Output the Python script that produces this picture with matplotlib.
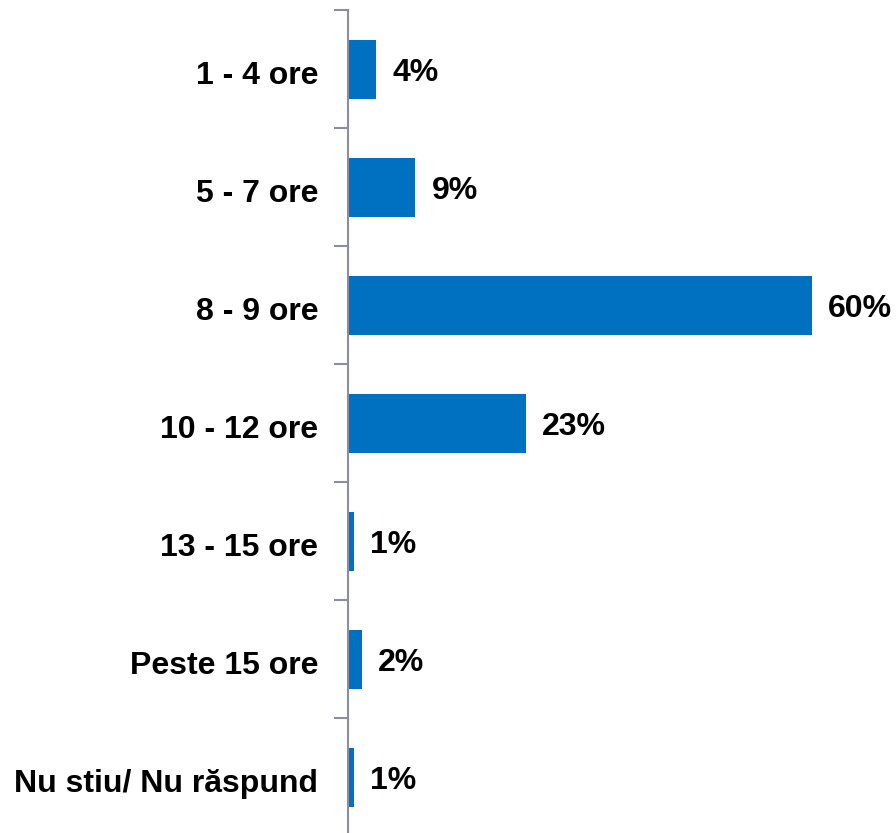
import matplotlib
matplotlib.use("Agg")
import matplotlib.pyplot as plt

categories = ['1 - 4 ore', '5 - 7 ore', '8 - 9 ore', '10 - 12 ore',
              '13 - 15 ore', 'Peste 15 ore', 'Nu stiu/ Nu răspund']
values = [3.6, 8.7, 60.0, 23.0, 0.8, 1.8, 0.8]
value_labels = ['4%', '9%', '60%', '23%', '1%', '2%', '1%']

bar_color = '#0070c0'
axis_color = '#8c8ca6'

plt.rcParams['font.family'] = ['Liberation Sans', 'DejaVu Sans']

fig = plt.figure(figsize=(8.96, 8.33), dpi=100)
ax = fig.add_axes([348 / 896, -3 / 833, 541 / 896, 826 / 833])

pos = list(range(len(categories)))
ax.barh(pos, values, height=0.5, color=bar_color)
ax.set_ylim(len(categories) - 0.5, -0.5)
ax.set_xlim(0, 70)

for p, v, lab in zip(pos, values, value_labels):
    ax.text(v + 2.1, p + 0.03, lab, va='center', ha='left',
            fontsize=23, fontweight='bold', color='black')

ax.set_yticks([p + 0.03 for p in pos])
ax.set_yticklabels(categories, fontsize=23, fontweight='bold')
ax.tick_params(axis='y', which='major', length=0, pad=21.5)
ax.set_yticks([p - 0.5 for p in pos] + [len(pos) - 0.5], minor=True)
ax.tick_params(axis='y', which='minor', length=10, width=1.5, color=axis_color)
ax.set_xticks([])

for side in ['top', 'right', 'bottom']:
    ax.spines[side].set_visible(False)
ax.spines['left'].set_color(axis_color)
ax.spines['left'].set_linewidth(1.5)

fig.savefig('out.png', dpi=100)
